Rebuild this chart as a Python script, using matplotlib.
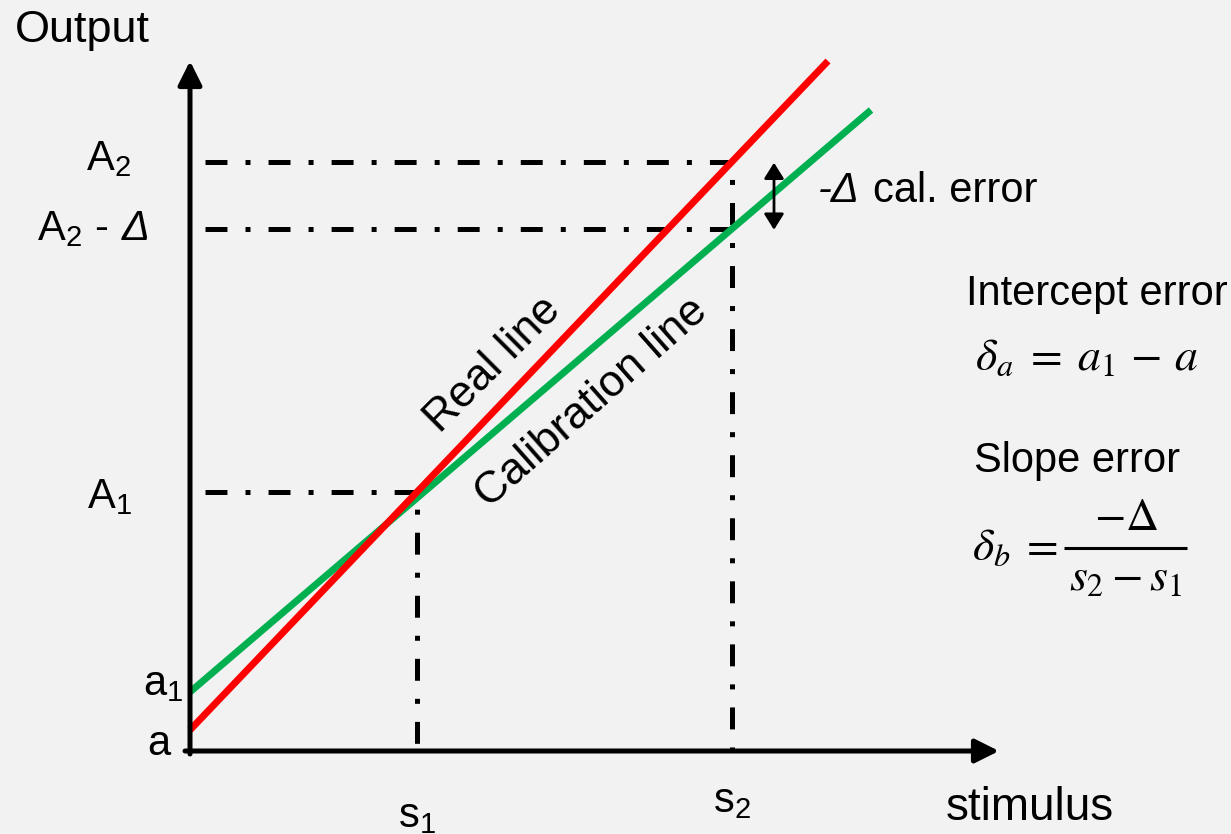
import numpy as np
import matplotlib
matplotlib.use("Agg")
import matplotlib.pyplot as plt

# ---- data (diagram units: 1 unit = 1 px, origin at axes corner) ----
real_x = [0, 638]          # stimulus values for the real line
real_y = [21, 690]         # output values for the real line
cal_x = [0, 681]           # stimulus values for the calibration line
cal_y = [59, 641]          # output values for the calibration line
s_values = [227, 542]      # s1, s2
s_labels = [r'$\mathrm{s_1}$', r'$\mathrm{s_2}$']

A1 = np.interp(s_values[0], real_x, real_y)
A2 = np.interp(s_values[1], real_x, real_y)
A2d = np.interp(s_values[1], cal_x, cal_y)

plt.rcParams['font.family'] = ['Liberation Sans', 'DejaVu Sans']
plt.rcParams['mathtext.fontset'] = 'custom'
plt.rcParams['mathtext.rm'] = 'Liberation Sans'
plt.rcParams['mathtext.it'] = 'Liberation Sans:italic'
plt.rcParams['lines.scale_dashes'] = False

BG = '#f2f2f2'
RED = '#ff0000'
GREEN = '#00b050'
FS = 30
MFS = 33

fig = plt.figure(figsize=(12.31, 8.34), dpi=100, facecolor=BG)
ax = fig.add_axes([0, 0, 1, 1])
ax.set_facecolor(BG)
ax.set_xlim(-190, 1041)
ax.set_ylim(-83, 751)
ax.axis('off')

# dash-dot guide lines
dd = (0, (15.8, 13, 3.6, 13))
x0 = 15
ax.plot([x0, s_values[0], s_values[0]], [A1, A1, 0], color='black', lw=3.6,
        linestyle=dd, dash_capstyle='butt', zorder=2)
ax.plot([x0, s_values[1], s_values[1]], [A2, A2, 0], color='black', lw=3.6,
        linestyle=dd, dash_capstyle='butt', zorder=2)
ax.plot([x0, s_values[1]], [A2d, A2d], color='black', lw=3.6,
        linestyle=dd, dash_capstyle='butt', zorder=2)

# lines
ax.plot(cal_x, cal_y, color=GREEN, lw=5, solid_capstyle='butt', zorder=3)
ax.plot(real_x, real_y, color=RED, lw=5, solid_capstyle='butt', zorder=4)

# axes arrows
arr = dict(arrowstyle='-|>,head_length=0.9,head_width=0.45', color='black',
           lw=3.6, mutation_scale=16, shrinkA=0, shrinkB=0)
ax.annotate('', xy=(0, 690), xytext=(0, -3), arrowprops=arr, zorder=5)
ax.annotate('', xy=(809, 0), xytext=(-5, 0), arrowprops=arr, zorder=5)

# delta double arrow
darr = dict(arrowstyle='<|-|>,head_length=0.8,head_width=0.5', color='black',
            lw=2, mutation_scale=12, shrinkA=0, shrinkB=0)
ax.annotate('', xy=(584, A2 - 1), xytext=(584, A2d - 1), arrowprops=darr, zorder=5)

# texts
ax.text(-175, 709, 'Output', fontsize=32.5, ha='left', va='baseline')
ax.text(756, -69, 'stimulus', fontsize=33, ha='left', va='baseline')

ax.text(-59, 581, r'$\mathrm{A_2}$', fontsize=FS, ha='right', va='baseline')
ax.text(-82, 511, r'$\mathrm{A_2}$ -', fontsize=FS, ha='right', va='baseline')
ax.text(-40, 511, 'Δ', fontsize=FS, ha='right', va='baseline', style='italic')
ax.text(-58, 243, r'$\mathrm{A_1}$', fontsize=FS, ha='right', va='baseline')
ax.text(-7, 56, r'$\mathrm{a_1}$', fontsize=FS, ha='right', va='baseline')
ax.text(-20, -4, 'a', fontsize=FS, ha='right', va='baseline')
ax.text(s_values[0], -76, s_labels[0], fontsize=FS, ha='center', va='baseline')
ax.text(s_values[1], -61, s_labels[1], fontsize=FS, ha='center', va='baseline')

ax.text(628, 549, '-Δ', fontsize=FS, ha='left', va='baseline', style='italic')
ax.text(683, 549, 'cal. error', fontsize=FS, ha='left', va='baseline')

ax.text(303, 386, 'Real line', fontsize=32, ha='center', va='center',
        rotation=45, rotation_mode='anchor')
ax.text(402, 348, 'Calibration line', fontsize=32, ha='center', va='center',
        rotation=41.5, rotation_mode='anchor')

ax.text(907, 446, 'Intercept error', fontsize=FS, ha='center', va='baseline')
ax.text(785, 381, r'$\delta_a \;=\; a_1 \,-\, a$', fontsize=MFS, ha='left',
        va='baseline', math_fontfamily='stix')
ax.text(887, 279, 'Slope error', fontsize=FS, ha='center', va='baseline')

# slope error formula: delta_b = (-Delta) / (s2 - s1)
ax.text(782, 191, r'$\delta_b \;=$', fontsize=MFS, ha='left', va='baseline',
        math_fontfamily='stix')
ax.plot([874, 997], [203, 203], color='black', lw=2.2, solid_capstyle='butt')
ax.text(936, 221, r'$-\Delta$', fontsize=MFS, ha='center', va='baseline',
        math_fontfamily='stix')
ax.text(936, 161, r'$s_2 - s_1$', fontsize=MFS, ha='center', va='baseline',
        math_fontfamily='stix')

fig.savefig('out.png', dpi=100, facecolor=BG)
